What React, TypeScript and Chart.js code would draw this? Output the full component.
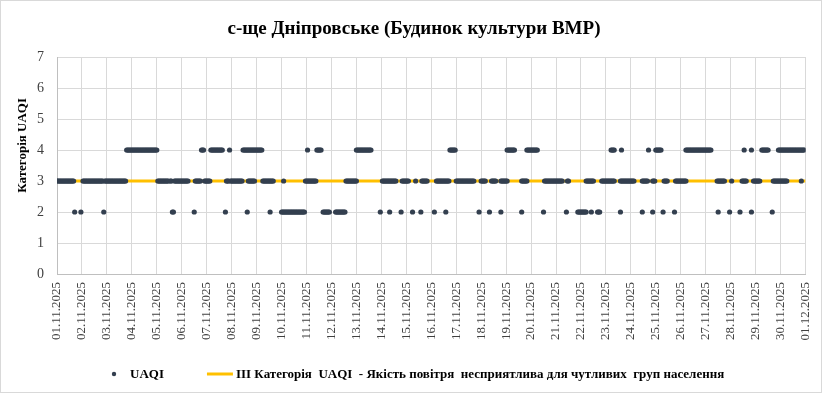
import React, { useEffect, useRef } from "react";
import { Chart, registerables } from "chart.js";

Chart.register(...registerables);

// ---- Data (hours counted from 01.11.2025 00:00) ----
const dateLabels: string[] = [
  "01.11.2025", "02.11.2025", "03.11.2025", "04.11.2025", "05.11.2025", "06.11.2025",
  "07.11.2025", "08.11.2025", "09.11.2025", "10.11.2025", "11.11.2025", "12.11.2025",
  "13.11.2025", "14.11.2025", "15.11.2025", "16.11.2025", "17.11.2025", "18.11.2025",
  "19.11.2025", "20.11.2025", "21.11.2025", "22.11.2025", "23.11.2025", "24.11.2025",
  "25.11.2025", "26.11.2025", "27.11.2025", "28.11.2025", "29.11.2025", "30.11.2025",
  "01.12.2025",
];

// Runs of consecutive hourly readings [firstHour, lastHour] per UAQI category
const uaqiCat2Runs: [number, number][] = [
  [17, 17], [23, 23], [45, 45], [111, 112], [132, 132], [162, 162], [183, 183], [205, 205],
  [216, 238], [256, 262], [268, 277], [311, 311], [320, 320], [331, 331], [342, 342],
  [350, 350], [363, 363], [374, 374], [406, 406], [416, 416], [427, 427], [447, 447],
  [468, 468], [490, 490], [501, 509], [514, 514], [520, 522], [542, 542], [563, 563],
  [573, 573], [583, 583], [594, 594], [636, 636], [647, 647], [657, 657], [668, 668],
  [688, 688],
];

const uaqiCat3Runs: [number, number][] = [
  [0, 16], [25, 44], [46, 66], [97, 107], [109, 110], [113, 126], [133, 138], [142, 147],
  [163, 165], [167, 178], [184, 190], [198, 208], [218, 218], [239, 249], [278, 288],
  [313, 326], [332, 338], [345, 345], [351, 356], [365, 377], [384, 401], [408, 412],
  [418, 422], [427, 433], [447, 452], [469, 486], [491, 492], [509, 516], [524, 536],
  [542, 555], [563, 568], [573, 575], [584, 587], [595, 605], [635, 642], [649, 649],
  [659, 663], [670, 676], [689, 702], [716, 716],
];

const uaqiCat4Runs: [number, number][] = [
  [67, 96], [139, 141], [148, 159], [166, 166], [179, 197], [241, 241], [250, 254],
  [288, 302], [378, 383], [433, 440], [452, 462], [533, 536], [543, 543], [569, 569],
  [576, 581], [605, 629], [661, 661], [668, 668], [678, 684], [694, 719],
];

const thresholdCategory = 3;
const totalHours = 720;

const seriesName = "UAQI";
const thresholdName =
  "ІІІ Категорія  UAQI  - Якість повітря  несприятлива для чутливих  груп населення";
const chartTitle = "с-ще Дніпровське (Будинок культури ВМР)";
const yAxisTitle = "Категорія UAQI";

const POINT_COLOR = "#333F4F";
const LINE_COLOR = "#FFC000";
const SERIF = '"Liberation Serif", "Times New Roman", serif';

function buildPoints() {
  const pts: { x: number; y: number }[] = [];
  const groups: [number, [number, number][]][] = [
    [2, uaqiCat2Runs],
    [3, uaqiCat3Runs],
    [4, uaqiCat4Runs],
  ];
  for (const [cat, runs] of groups) {
    for (const [a, b] of runs) {
      for (let h = a; h <= b; h++) pts.push({ x: h, y: cat });
    }
  }
  return pts;
}

const decorPlugin = {
  id: "decor",
  beforeDraw(chart: any) {
    const { ctx, width, height } = chart;
    ctx.save();
    ctx.fillStyle = "#ffffff";
    ctx.fillRect(0, 0, width, height);
    ctx.restore();
  },
  afterDraw(chart: any) {
    const { ctx, width, height } = chart;
    ctx.save();
    // outer border
    ctx.strokeStyle = "#D9D9D9";
    ctx.lineWidth = 1;
    ctx.strokeRect(0.5, 0.5, width - 2, height - 2);

    // title
    ctx.fillStyle = "#000000";
    ctx.font = `bold 19px ${SERIF}`;
    ctx.textAlign = "center";
    ctx.textBaseline = "alphabetic";
    ctx.fillText(chartTitle, width / 2 + 2.5, 34);

    // y axis title
    ctx.save();
    ctx.translate(26, 98);
    ctx.rotate(-Math.PI / 2);
    ctx.font = `bold 13px ${SERIF}`;
    ctx.textAlign = "right";
    ctx.textBaseline = "alphabetic";
    ctx.fillText(yAxisTitle, 0, 0);
    ctx.restore();

    // legend
    const ly = 374;
    ctx.font = `bold 13px ${SERIF}`;
    ctx.textBaseline = "middle";
    ctx.textAlign = "left";
    const gapAfterDot = 14;
    const gapBetween = 43;
    const lineLen = 26;
    const w1 = ctx.measureText(seriesName).width;
    let x = 112;
    ctx.fillStyle = POINT_COLOR;
    ctx.beginPath();
    ctx.arc(x + 2, ly, 2.2, 0, Math.PI * 2);
    ctx.fill();
    x += 4 + gapAfterDot;
    ctx.fillStyle = "#000000";
    ctx.fillText(seriesName, x, ly + 1);
    x += w1 + gapBetween;
    ctx.strokeStyle = LINE_COLOR;
    ctx.lineWidth = 3;
    ctx.beginPath();
    ctx.moveTo(x, ly);
    ctx.lineTo(x + lineLen, ly);
    ctx.stroke();
    x += lineLen + 3;
    ctx.fillStyle = "#000000";
    ctx.fillText(thresholdName, x, ly + 1);
    ctx.restore();
  },
};

export default function App() {
  const ref = useRef<HTMLCanvasElement | null>(null);

  useEffect(() => {
    document.body.style.margin = "0";
    const canvas = ref.current;
    if (!canvas) return;
    const chart = new Chart(canvas, {
      type: "scatter",
      data: {
        datasets: [
          {
            type: "scatter",
            label: seriesName,
            data: buildPoints(),
            backgroundColor: POINT_COLOR,
            borderColor: POINT_COLOR,
            borderWidth: 0,
            pointRadius: 2.6,
            pointHoverRadius: 2.6,
            order: 0,
          },
          {
            type: "line",
            label: thresholdName,
            data: [
              { x: 0, y: thresholdCategory },
              { x: totalHours, y: thresholdCategory },
            ],
            borderColor: LINE_COLOR,
            backgroundColor: LINE_COLOR,
            borderWidth: 3,
            pointRadius: 0,
            fill: false,
            order: 1,
          } as any,
        ],
      },
      options: {
        responsive: false,
        devicePixelRatio: 1,
        animation: false,
        events: [],
        layout: { padding: { left: 0, right: 17.5, top: 57, bottom: 40 } },
        plugins: {
          legend: { display: false },
          title: { display: false },
          tooltip: { enabled: false },
        },
        scales: {
          x: {
            type: "linear",
            min: 0,
            max: totalHours,
            afterFit: (scale: any) => {
              scale.height = 80;
              scale.paddingLeft = 0;
              scale.paddingRight = 0;
            },
            grid: { color: "#D9D9D9", drawTicks: false, lineWidth: 1 },
            border: { color: "#BFBFBF" },
            ticks: {
              stepSize: 24,
              maxTicksLimit: 100,
              autoSkip: false,
              minRotation: 90,
              maxRotation: 90,
              padding: 8,
              color: "#404040",
              font: { family: SERIF, size: 13 },
              callback: (v: any) => dateLabels[Math.round(Number(v) / 24)] ?? "",
            },
          },
          y: {
            min: 0,
            max: 7,
            afterFit: (scale: any) => {
              scale.width = 57;
            },
            grid: { color: "#D9D9D9", drawTicks: false, lineWidth: 1 },
            border: { color: "#BFBFBF" },
            ticks: {
              stepSize: 1,
              padding: 13,
              color: "#404040",
              font: { family: SERIF, size: 14 },
            },
          },
        },
      },
      plugins: [decorPlugin],
    });
    return () => chart.destroy();
  }, []);

  return (
    <div style={{ width: 823, height: 394 }}>
      <canvas ref={ref} width={823} height={394} style={{ display: "block" }} />
    </div>
  );
}
